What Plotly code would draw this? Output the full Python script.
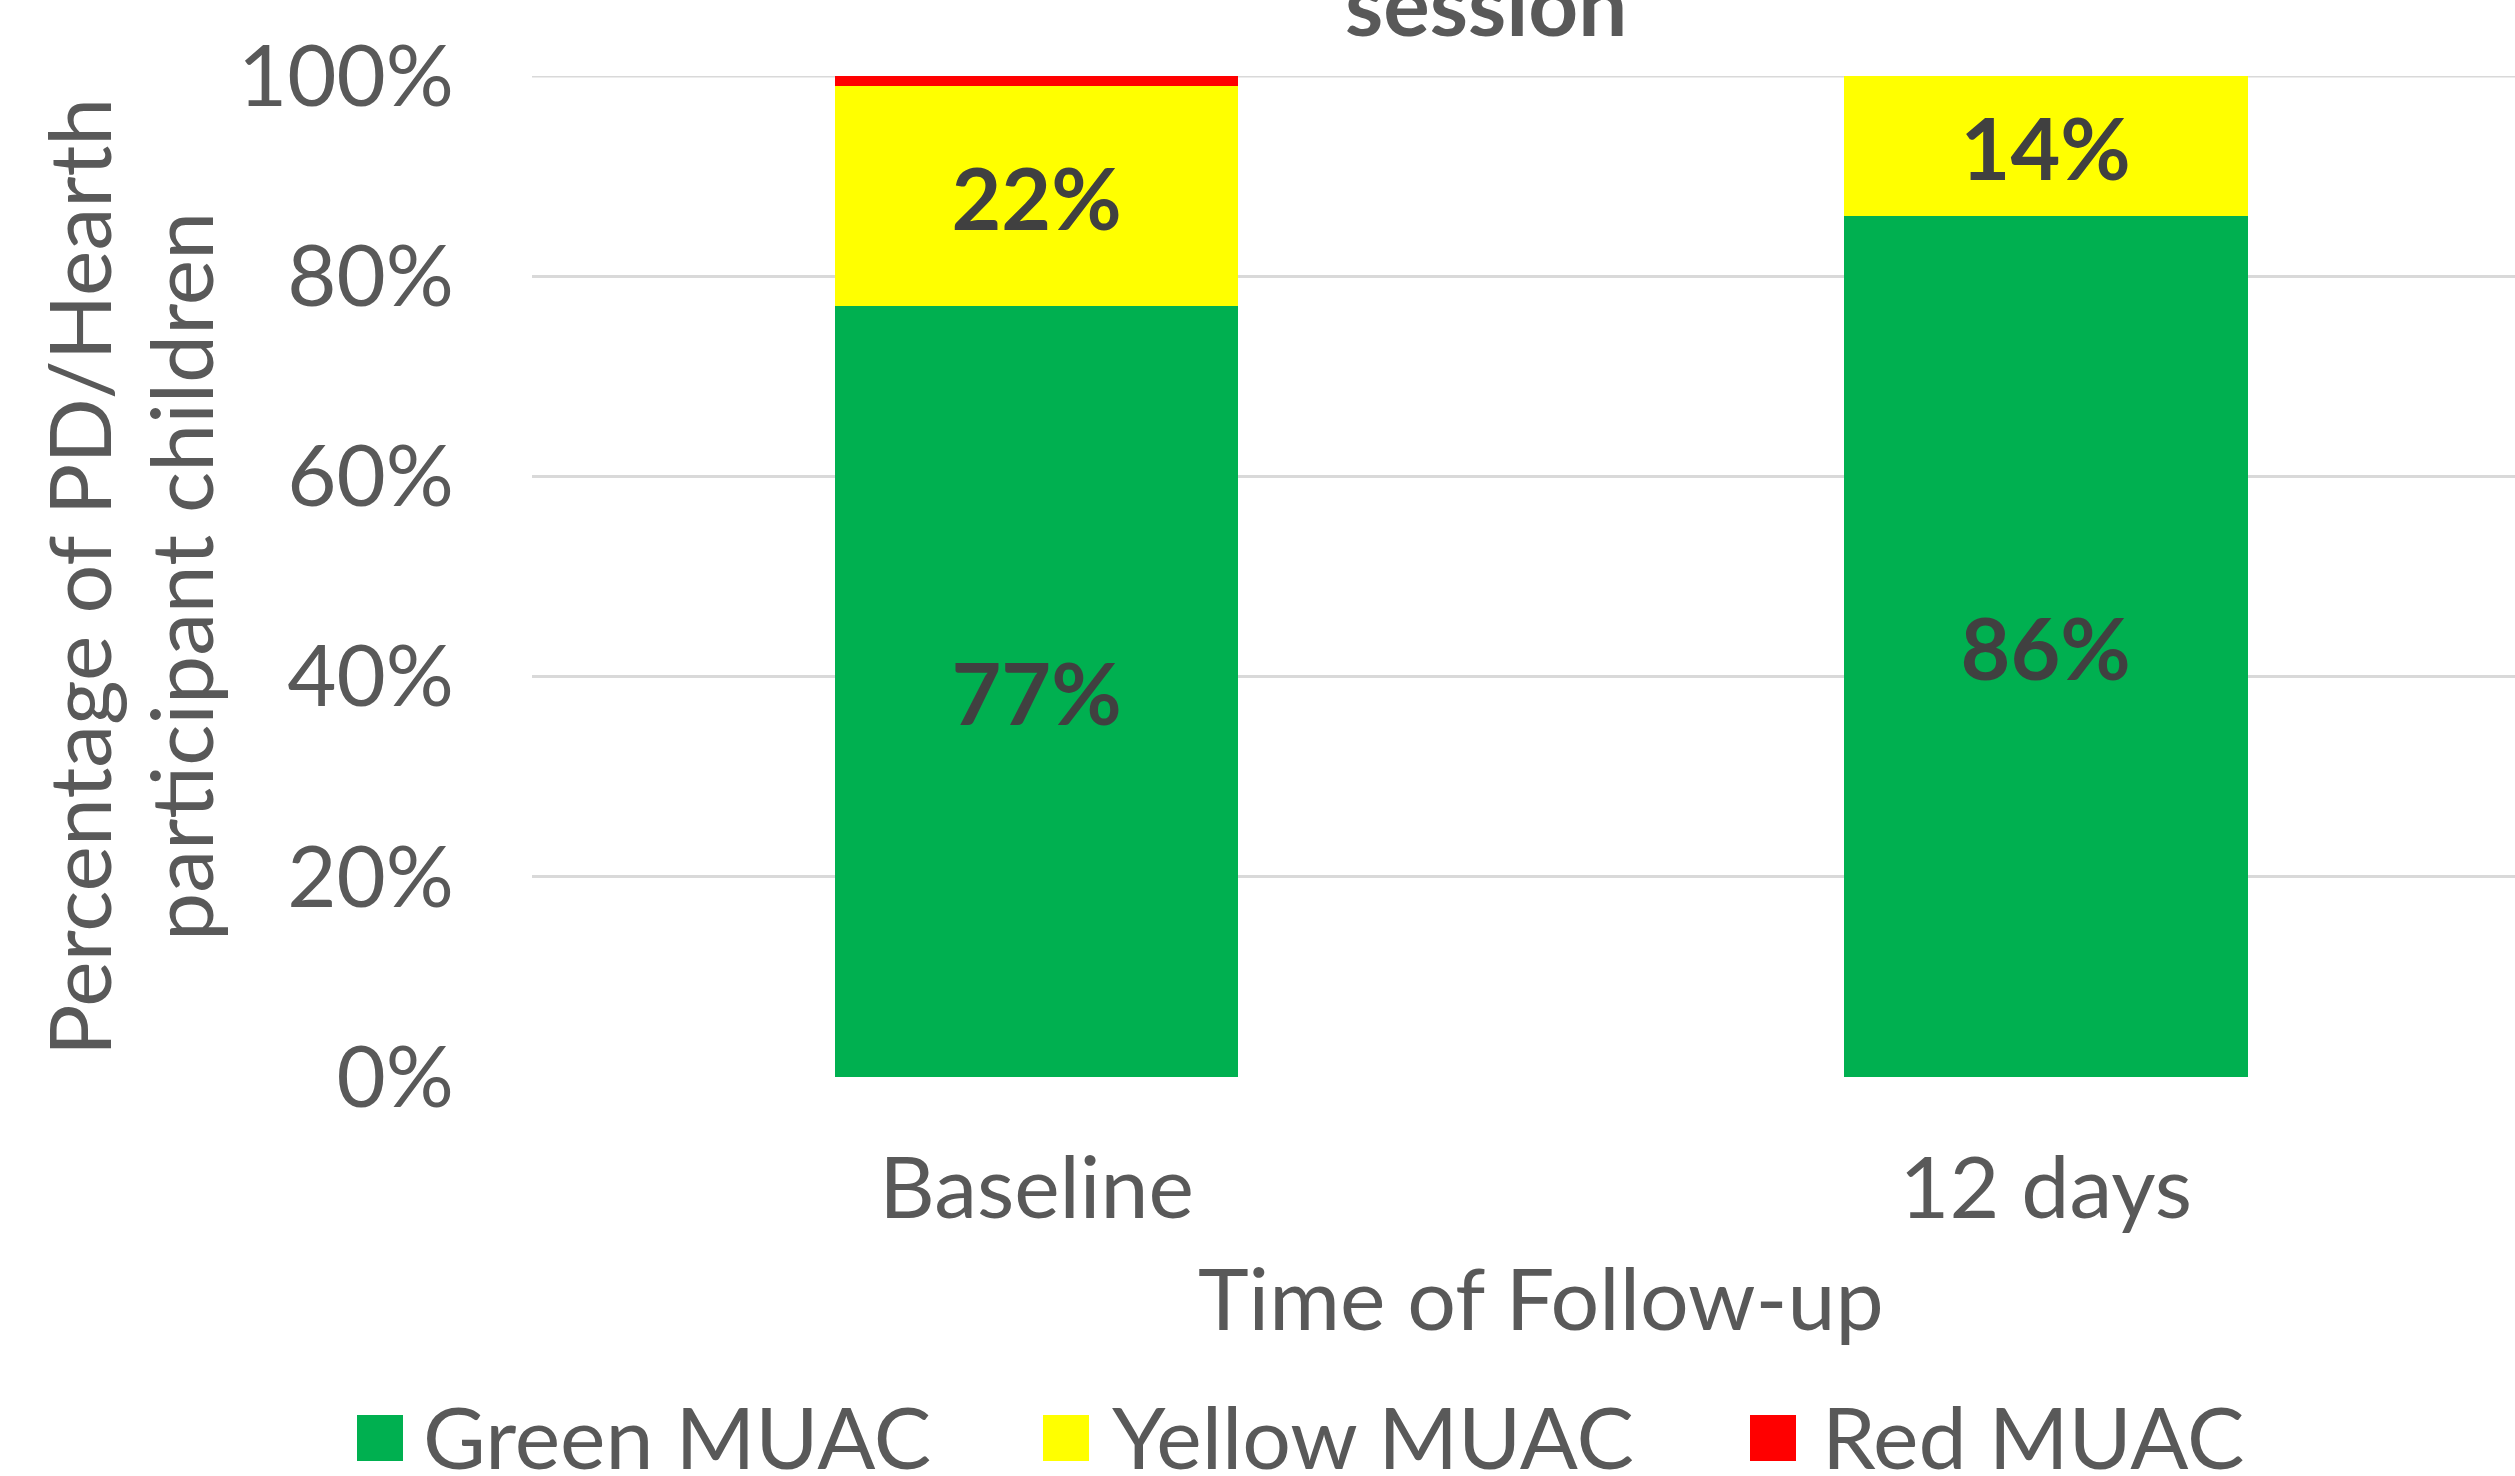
import plotly.graph_objects as go

# MUAC status of PD/Hearth children at each follow-up point
categories = ["Baseline", "12 days"]
green_muac = [77, 86]
yellow_muac = [22, 14]
red_muac = [1, 0]

series = [
    ("Green MUAC", green_muac, "#00B050"),
    ("Yellow MUAC", yellow_muac, "#FFFF00"),
    ("Red MUAC", red_muac, "#FF0000"),
]

W, H = 2515, 1476
L, R, T, B = 532, 0, 76, 399
PW, PH = W - L - R, H - T - B


def px_x(x):
    return (x - L) / PW


def px_y(y):
    return (H - B - y) / PH


FONT = "Lato"
TXT = "#595959"
LBL = "#404040"
GRID = "#D9D9D9"

fig = go.Figure()
for name, vals, color in series:
    labels = [f"{v}%" if v >= 5 else "" for v in vals]
    fig.add_trace(go.Bar(
        x=categories, y=vals, name=name, width=0.4,
        marker=dict(color=color, line=dict(width=0)),
        text=labels, textposition="inside", insidetextanchor="middle",
        textangle=0,
        textfont=dict(family=FONT, size=86, color=LBL, weight="bold"),
        showlegend=False, hoverinfo="skip",
    ))

fig.update_layout(
    width=W, height=H,
    margin=dict(l=L, r=R, t=T, b=B, autoexpand=False),
    barmode="stack",
    plot_bgcolor="white", paper_bgcolor="white",
    font=dict(family=FONT, color=TXT, size=86),
    showlegend=False,
)
fig.update_xaxes(
    range=[-0.5, 1.465], showgrid=False, zeroline=False, showline=False,
    ticks="", tickfont=dict(family=FONT, size=86, color=TXT),
    ticklabelstandoff=54,
)
fig.update_yaxes(
    range=[0, 100], tickvals=[0, 20, 40, 60, 80, 100],
    ticktext=["0%", "20%", "40%", "60%", "80%", "100%"],
    showgrid=True, gridcolor=GRID, gridwidth=3,
    zeroline=False, showline=False, ticks="",
    tickfont=dict(family=FONT, size=85, color=TXT),
    ticklabelstandoff=77,
)

annotations = [
    # last visible line of the chart title
    dict(text="<b>session</b>", x=px_x(1486), y=px_y(2), xref="paper", yref="paper",
         xanchor="center", yanchor="middle", showarrow=False,
         font=dict(family=FONT, size=87, color=TXT)),
    # x axis title
    dict(text="Time of Follow-up", x=px_x(1541), y=px_y(1296), xref="paper", yref="paper",
         xanchor="center", yanchor="middle", showarrow=False,
         font=dict(family=FONT, size=86, color=TXT)),
    # y axis title, two lines
    dict(text="Percentage of PD/Hearth", x=px_x(77), y=px_y(577), xref="paper", yref="paper",
         xanchor="center", yanchor="middle", textangle=-90, showarrow=False,
         font=dict(family=FONT, size=86, color=TXT)),
    dict(text="participant children", x=px_x(179), y=px_y(577), xref="paper", yref="paper",
         xanchor="center", yanchor="middle", textangle=-90, showarrow=False,
         font=dict(family=FONT, size=86, color=TXT)),
]

# top gridline at 100%, sitting on the plot edge
shapes = [dict(type="line", xref="paper", yref="y", x0=0, x1=1, y0=100, y1=100,
               line=dict(color=GRID, width=3), layer="below")]

# legend row along the bottom
legend_items = [(357, 421), (1043, 1110), (1750, 1820)]
for (sq_x, tx_x), (name, _, color) in zip(legend_items, series):
    shapes.append(dict(type="rect", xref="paper", yref="paper",
                       x0=px_x(sq_x), x1=px_x(sq_x + 46),
                       y0=px_y(1415), y1=px_y(1461),
                       fillcolor=color, line=dict(width=0)))
    annotations.append(dict(text=name, x=px_x(tx_x), y=px_y(1435), xref="paper", yref="paper",
                            xanchor="left", yanchor="middle", showarrow=False,
                            font=dict(family=FONT, size=86, color=TXT)))

fig.update_layout(annotations=annotations, shapes=shapes)
fig.write_html("out.html")
